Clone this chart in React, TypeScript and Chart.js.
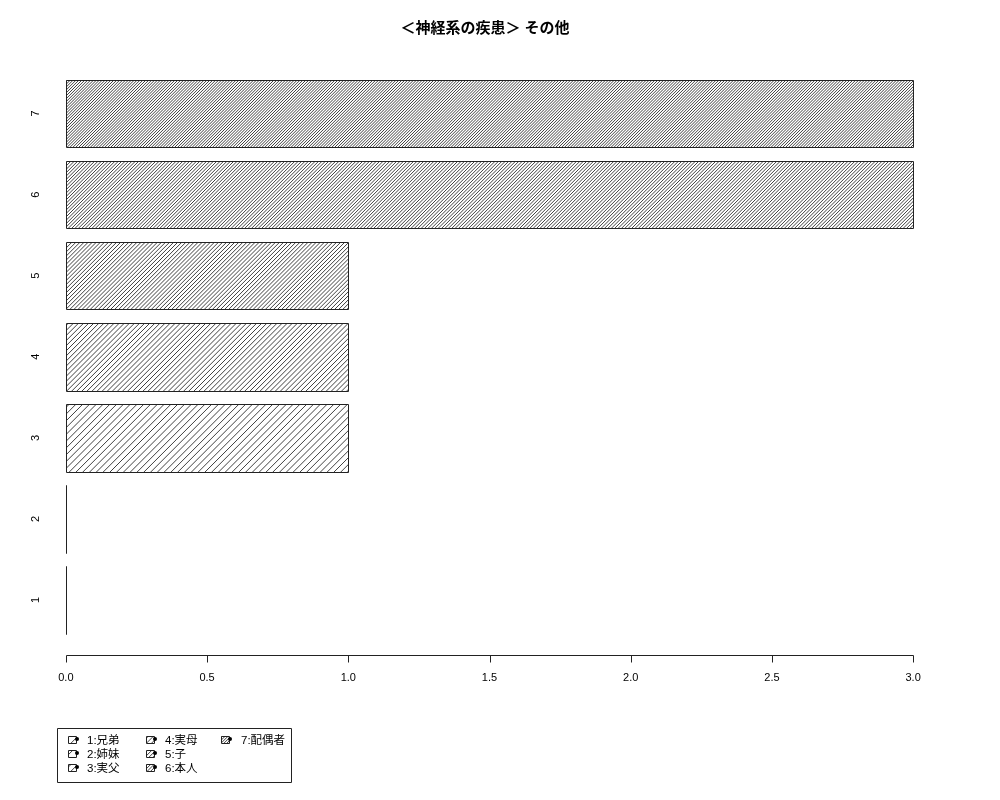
import React, { useEffect, useRef } from 'react';
import { Chart, registerables } from 'chart.js';

Chart.register(...registerables);

const titleText = '＜神経系の疾患＞ その他';
const categories = ['1', '2', '3', '4', '5', '6', '7'];
const counts = [0, 0, 1, 1, 1, 3, 3];
// hatch density (lines per inch) for each category
const densities = [5, 10, 15, 20, 25, 30, 35];
const legendLabels = ['1:兄弟', '2:姉妹', '3:実父', '4:実母', '5:子', '6:本人', '7:配偶者'];
const xTicks = [0, 0.5, 1, 1.5, 2, 2.5, 3];
const xTickLabels = ['0.0', '0.5', '1.0', '1.5', '2.0', '2.5', '3.0'];

const FONT = '"Liberation Sans", "Noto Sans CJK JP", sans-serif';

function drawHatch(ctx: CanvasRenderingContext2D, l: number, t: number, w: number, h: number, density: number) {
  if (w <= 0 || h <= 0) return;
  const s = (72 * Math.SQRT2) / density;
  const b = t + h;
  ctx.save();
  ctx.beginPath();
  ctx.rect(l, t, w, h);
  ctx.clip();
  ctx.beginPath();
  for (let k = l + t + s / 2; k <= l + w + b + s; k += s) {
    ctx.moveTo(k - b, b);
    ctx.lineTo(k - t, t);
  }
  ctx.strokeStyle = '#000';
  ctx.lineWidth = 0.75;
  ctx.stroke();
  ctx.restore();
}

const rDecor = {
  id: 'rDecor',
  afterDatasetsDraw(chart: any) {
    const ctx: CanvasRenderingContext2D = chart.ctx;
    const meta = chart.getDatasetMeta(0);
    meta.data.forEach((el: any, i: number) => {
      const p = el.getProps(['x', 'y', 'base', 'height'], true);
      const l = Math.round(Math.min(p.x, p.base));
      const r = Math.round(Math.max(p.x, p.base));
      const t = Math.round(p.y - p.height / 2);
      const bt = Math.round(p.y + p.height / 2);
      drawHatch(ctx, l, t, r - l, bt - t, densities[i]);
      ctx.save();
      ctx.strokeStyle = '#222';
      ctx.lineWidth = 1;
      ctx.beginPath();
      ctx.rect(l + 0.5, t + 0.5, r - l, bt - t);
      ctx.stroke();
      ctx.restore();
    });
  },
  afterDraw(chart: any) {
    const ctx: CanvasRenderingContext2D = chart.ctx;
    const xs = chart.scales.x;
    const ys = chart.scales.y;
    const area = chart.chartArea;
    ctx.save();
    ctx.strokeStyle = '#222';
    ctx.fillStyle = '#000';
    ctx.lineWidth = 1;

    // title
    ctx.font = `bold 15px ${FONT}`;
    ctx.textAlign = 'center';
    ctx.textBaseline = 'middle';
    ctx.fillText(titleText, (area.left + area.right) / 2 - 4.5, 29);

    // x axis
    const axisY = Math.round(area.bottom + 14.5) + 0.5;
    const x0 = Math.round(xs.getPixelForValue(xTicks[0])) + 0.5;
    const x1 = Math.round(xs.getPixelForValue(xTicks[xTicks.length - 1])) + 0.5;
    ctx.beginPath();
    ctx.moveTo(x0, axisY);
    ctx.lineTo(x1, axisY);
    xTicks.forEach((v) => {
      const px = Math.round(xs.getPixelForValue(v)) + 0.5;
      ctx.moveTo(px, axisY);
      ctx.lineTo(px, axisY + 7);
    });
    ctx.stroke();
    ctx.font = `11px ${FONT}`;
    ctx.textBaseline = 'middle';
    xTicks.forEach((v, i) => {
      ctx.fillText(xTickLabels[i], xs.getPixelForValue(v), axisY + 22);
    });

    // y labels (rotated, like R)
    categories.forEach((c, i) => {
      const py = ys.getPixelForValue(i);
      ctx.save();
      ctx.translate(36, py);
      ctx.rotate(-Math.PI / 2);
      ctx.textAlign = 'center';
      ctx.textBaseline = 'middle';
      ctx.fillText(c, 0, 0);
      ctx.restore();
    });

    // legend
    const boxL = 57, boxT = 728, boxR = 291, boxB = 782;
    ctx.beginPath();
    ctx.rect(boxL + 0.5, boxT + 0.5, boxR - boxL, boxB - boxT);
    ctx.stroke();
    const colBox = [68, 146, 221];
    const colText = [87, 165, 241];
    const rowY = [740, 754, 768];
    ctx.textAlign = 'left';
    ctx.font = `11.5px ${FONT}`;
    legendLabels.forEach((lab, i) => {
      const col = Math.floor(i / 3);
      const row = i % 3;
      const bx = colBox[col];
      const by = rowY[row] - 4;
      drawHatch(ctx, bx, by, 8, 7, densities[i]);
      ctx.beginPath();
      ctx.rect(bx + 0.5, by + 0.5, 8, 7);
      ctx.stroke();
      ctx.beginPath();
      ctx.arc(bx + 9, by + 3, 2, 0, Math.PI * 2);
      ctx.fill();
      ctx.fillText(lab, colText[col], rowY[row] + 0.5);
    });
    ctx.restore();
  },
};

export default function App() {
  const chartRef = useRef<HTMLCanvasElement>(null);
  const chartInstance = useRef<Chart | null>(null);

  useEffect(() => {
    document.body.style.margin = '0';
    if (!chartRef.current) return;
    const ctx = chartRef.current.getContext('2d');
    if (!ctx) return;
    if (chartInstance.current) chartInstance.current.destroy();

    chartInstance.current = new Chart(ctx, {
      type: 'bar',
      data: {
        labels: categories,
        datasets: [
          {
            data: counts,
            backgroundColor: 'rgba(0,0,0,0)',
            borderWidth: 0,
            barPercentage: 1 / 1.2,
            categoryPercentage: 1,
          },
        ],
      },
      options: {
        indexAxis: 'y',
        animation: false,
        responsive: true,
        maintainAspectRatio: false,
        layout: { padding: { left: 32, right: 53, top: 73, bottom: 159.5 } },
        plugins: {
          legend: { display: false },
          tooltip: { enabled: false },
          title: { display: false },
        },
        scales: {
          x: { type: 'linear', min: -0.12, max: 3.12, display: false },
          y: { type: 'category', reverse: true, offset: true, display: false },
        },
      },
      plugins: [rDecor],
    });

    return () => {
      if (chartInstance.current) {
        chartInstance.current.destroy();
        chartInstance.current = null;
      }
    };
  }, []);

  return (
    <div style={{ position: 'absolute', left: 0, top: 0, width: 1000, height: 800, background: '#fff' }}>
      <canvas ref={chartRef}></canvas>
    </div>
  );
}
